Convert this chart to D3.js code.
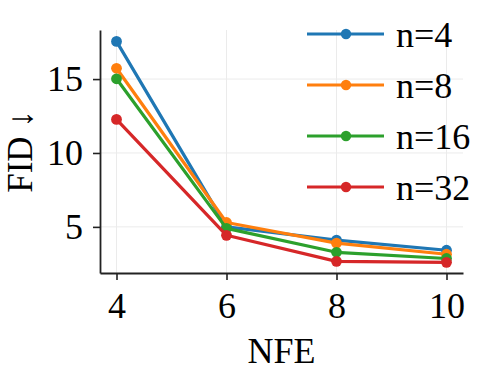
<!DOCTYPE html>
<html>
<head>
<meta charset="utf-8">
<script src="https://cdn.jsdelivr.net/npm/d3@7"></script>
<style>
  html, body { margin: 0; padding: 0; background: #fff; }
  text { font-family: "Liberation Serif", "Times New Roman", serif; fill: #000; }
</style>
</head>
<body>
<div id="chart"></div>
<script>
// ==== DATA ====
const NFE = [4, 6, 8, 10];
const SERIES_NAMES = ["n=4", "n=8", "n=16", "n=32"];
const FID_N4  = [17.55, 5.0, 4.1, 3.42];
const FID_N8  = [15.73, 5.3, 3.9, 3.15];
const FID_N16 = [15.02, 4.9, 3.28, 2.86];
const FID_N32 = [12.27, 4.43, 2.67, 2.6];
const Y_TICKS = [5, 10, 15];
const COLORS = ["#1f77b4", "#ff7f0e", "#2ca02c", "#d62728"];

// ==== SIZE ====
const width = 500, height = 370;
const margin = { top: 30, right: 37, bottom: 97, left: 100 };

const series = SERIES_NAMES.map((name, i) => ({
  name,
  color: COLORS[i],
  values: [FID_N4, FID_N8, FID_N16, FID_N32][i].map((v, j) => ({ x: NFE[j], y: v }))
}));

const x = d3.scaleLinear().domain([3.7, 10.3]).range([margin.left, width - margin.right]);
const y = d3.scaleLinear().domain([1.88, 18.32]).range([height - margin.bottom, margin.top]);

const svg = d3.select("#chart").append("svg")
  .attr("width", width).attr("height", height);

// grid
const grid = svg.append("g");
grid.selectAll("line.gx").data(NFE).enter().append("line")
  .attr("x1", d => x(d)).attr("x2", d => x(d))
  .attr("y1", margin.top).attr("y2", height - margin.bottom)
  .attr("stroke", "#ebebeb").attr("stroke-width", 1);
grid.selectAll("line.gy").data(Y_TICKS).enter().append("line")
  .attr("x1", margin.left).attr("x2", width - margin.right)
  .attr("y1", d => y(d)).attr("y2", d => y(d))
  .attr("stroke", "#ebebeb").attr("stroke-width", 1);

// axes
const gx = svg.append("g")
  .attr("transform", `translate(0,${height - margin.bottom})`)
  .call(d3.axisBottom(x).tickValues(NFE).tickFormat(d3.format("d"))
    .tickSize(7).tickPadding(6).tickSizeOuter(0));
const gy = svg.append("g")
  .attr("transform", `translate(${margin.left},0)`)
  .call(d3.axisLeft(y).tickValues(Y_TICKS).tickFormat(d3.format("d"))
    .tickSize(7).tickPadding(10).tickSizeOuter(0));

[gx, gy].forEach(g => {
  g.select(".domain").attr("stroke", "#222").attr("stroke-width", 1.8);
  g.selectAll(".tick line").attr("stroke", "#222").attr("stroke-width", 1.6);
  g.selectAll(".tick text")
    .style("font-family", "'Liberation Serif', serif")
    .attr("font-size", 36).attr("fill", "#000");
});
gx.selectAll(".tick text").attr("dy", "0.9em");
gy.selectAll(".tick text").attr("dy", "0.33em");

// axis labels
svg.append("text")
  .attr("x", (margin.left + width - margin.right) / 2)
  .attr("y", 363)
  .attr("text-anchor", "middle")
  .attr("font-size", 36)
  .text("NFE");

svg.append("text")
  .attr("transform", `translate(32,${(margin.top + height - margin.bottom) / 2}) rotate(-90)`)
  .attr("text-anchor", "middle")
  .attr("font-size", 35)
  .text("FID ↓");

// lines
const line = d3.line().x(d => x(d.x)).y(d => y(d.y));
const gLines = svg.append("g");
series.forEach(s => {
  gLines.append("path")
    .attr("d", line(s.values))
    .attr("fill", "none")
    .attr("stroke", s.color)
    .attr("stroke-width", 3.2)
    .attr("stroke-linejoin", "round");
  gLines.selectAll(null).data(s.values).enter().append("circle")
    .attr("cx", d => x(d.x)).attr("cy", d => y(d.y))
    .attr("r", 5.4).attr("fill", s.color);
});

// legend
const legend = svg.append("g").attr("transform", "translate(307,34)");
const row = legend.selectAll("g.row").data(series).enter().append("g")
  .attr("transform", (d, i) => `translate(0,${i * 51})`);
row.append("line")
  .attr("x1", 0).attr("x2", 77).attr("y1", 0).attr("y2", 0)
  .attr("stroke", d => d.color).attr("stroke-width", 3.2);
row.append("circle").attr("cx", 39).attr("cy", 0).attr("r", 5.2).attr("fill", d => d.color);
row.append("text")
  .attr("x", 89).attr("y", 0).attr("dy", "0.35em")
  .attr("font-size", 36)
  .text(d => d.name);
</script>
</body>
</html>
